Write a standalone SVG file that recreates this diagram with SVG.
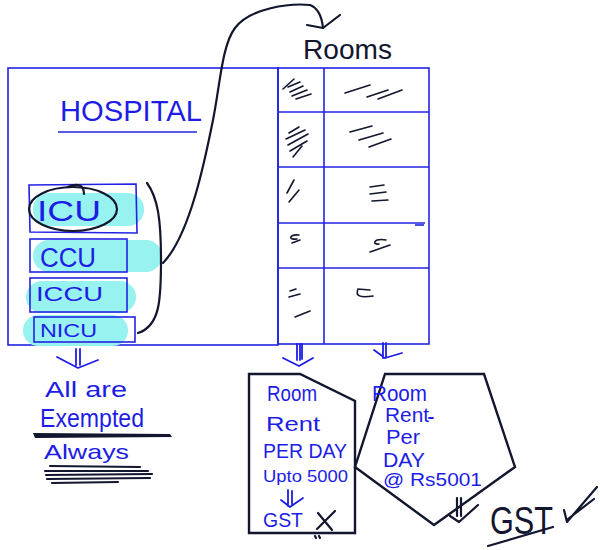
<svg xmlns="http://www.w3.org/2000/svg" width="600" height="550" viewBox="0 0 600 550">
  <style>
    .frame { fill: none; stroke: #2222e4; stroke-width: 1.6; }
    .ink { fill: none; stroke: #12162e; stroke-width: 2.2; stroke-linecap: round; stroke-linejoin: round; }
    .thin { fill: none; stroke: #12162e; stroke-width: 1.6; stroke-linecap: round; }
    .pen { fill: none; stroke: #1d1de6; stroke-width: 1.8; stroke-linecap: round; stroke-linejoin: round; }
    .hl { fill: #98f2ef; }
    .hand { font-family: "Liberation Sans", Arial, sans-serif; fill: #1d1de6; }
    .dark { font-family: "Liberation Sans", Arial, sans-serif; fill: #12162e; }
    .shape { fill: none; stroke: #12162e; stroke-width: 2.4; stroke-linejoin: miter; }
  </style>

  <!-- hospital block -->
  <g id="hospital">
    <rect class="frame" x="8" y="68" width="270" height="277"/>
    <text class="hand" x="60" y="121" font-size="30" textLength="142" lengthAdjust="spacingAndGlyphs">HOSPITAL</text>
    <line class="frame" x1="58" y1="132" x2="197" y2="132"/>
  </g>

  <g id="icu">
    <rect class="hl" x="33" y="193" width="111" height="33" rx="16"/>
    <path class="frame" d="M29,185 L136,184 L137,233 L30,232 Z"/>
    <text class="hand" x="37" y="221" font-size="30" textLength="64" lengthAdjust="spacingAndGlyphs">ICU</text>
    <ellipse class="ink" cx="73" cy="209" rx="44" ry="22"/>
    <path class="ink" d="M68,187 C76,183 84,184 84,194"/>
  </g>

  <g id="ccu">
    <rect class="hl" x="33" y="240" width="129" height="32" rx="16"/>
    <rect class="frame" x="30" y="239" width="97" height="33"/>
    <text class="hand" x="40" y="267" font-size="27" textLength="56" lengthAdjust="spacingAndGlyphs">CCU</text>
  </g>

  <g id="iccu">
    <rect class="hl" x="26" y="281" width="110" height="32" rx="16"/>
    <rect class="frame" x="30" y="278" width="97" height="34"/>
    <text class="hand" x="36" y="301" font-size="21" textLength="67" lengthAdjust="spacingAndGlyphs">ICCU</text>
  </g>

  <g id="nicu">
    <rect class="hl" x="23" y="315" width="105" height="31" rx="15.5"/>
    <rect class="frame" x="34" y="317" width="101" height="25"/>
    <text class="hand" x="40" y="337" font-size="18" textLength="57" lengthAdjust="spacingAndGlyphs">NICU</text>
  </g>

  <!-- rooms table -->
  <g id="rooms">
    <text class="dark" x="303" y="59" font-size="28" textLength="89" lengthAdjust="spacingAndGlyphs">Rooms</text>
    <rect class="frame" x="278" y="68" width="151" height="276"/>
    <line class="frame" x1="324" y1="68" x2="324" y2="344"/>
    <line class="frame" x1="278" y1="112" x2="429" y2="112"/>
    <line class="frame" x1="278" y1="167" x2="429" y2="167"/>
    <line class="frame" x1="278" y1="223" x2="425" y2="223"/>
    <line class="frame" x1="415" y1="225" x2="424" y2="225"/>
    <line class="frame" x1="278" y1="268" x2="429" y2="268"/>
    <!-- cell marks -->
    <path class="thin" d="M283,89 L294,79 M288,87 L300,82 M290,92 L303,86 M292,96 L307,90 M296,99 L311,94"/>
    <path class="thin" d="M345,93 L370,85 M367,97 L388,90 M378,99 L402,90"/>
    <path class="thin" d="M289,133 L299,127 M286,139 L305,130 M288,145 L308,134 M290,151 L307,141 M293,157 L302,146"/>
    <path class="thin" d="M350,132 L372,126 M359,140 L383,133 M369,147 L391,139"/>
    <path class="thin" d="M287,193 L294,180 M289,202 L299,190"/>
    <path class="thin" d="M370,187 L384,185 M370,194 L386,192 M372,201 L388,200"/>
    <path class="thin" d="M299,235 C290,234 287,240 297,239 M292,243 L300,240"/>
    <path class="thin" d="M386,240 C373,238 372,245 379,244 M370,252 L390,245"/>
    <path class="thin" d="M296,289 L290,291 M289,297 L300,294 M295,317 L310,311"/>
    <path class="thin" d="M370,290 L358,289 C355,296 360,298 373,296"/>
  </g>

  <!-- note below hospital -->
  <g id="exempt-note">
    <text class="hand" x="45" y="397" font-size="22" textLength="82" lengthAdjust="spacingAndGlyphs">All are</text>
    <text class="hand" x="40" y="427" font-size="25" textLength="104" lengthAdjust="spacingAndGlyphs">Exempted</text>
    <path d="M33,433 L170,434 L172,437 L35,438 Z" fill="#12162e"/>
    <text class="hand" x="44" y="459" font-size="21" textLength="85" lengthAdjust="spacingAndGlyphs">Always</text>
    <path class="ink" stroke-width="3" d="M50,466 L140,467 M45,471 L148,471 M46,475 L152,474 M47,479 L150,478 M52,483 L118,482"/>
  </g>

  <!-- rent up to 5000 -->
  <g id="rent-upto-5000">
    <polygon class="shape" points="249,374 300,374 355,401 355,533 249,533"/>
    <text class="hand" x="267" y="401" font-size="22" textLength="50" lengthAdjust="spacingAndGlyphs">Room</text>
    <text class="hand" x="266" y="431" font-size="21" textLength="54" lengthAdjust="spacingAndGlyphs">Rent</text>
    <text class="hand" x="263" y="458" font-size="21" textLength="84" lengthAdjust="spacingAndGlyphs">PER DAY</text>
    <text class="hand" x="263" y="482" font-size="17" textLength="85" lengthAdjust="spacingAndGlyphs">Upto 5000</text>
    <path class="pen" d="M288,490 L288,506 M292,491 L292,505 M281,500 L290,507 L303,498"/>
    <text class="hand" x="263" y="527" font-size="21" textLength="40" lengthAdjust="spacingAndGlyphs">GST</text>
    <path class="ink" stroke-width="2.6" d="M318,513 L332,530 M335,511 L317,529"/>
    <path class="ink" d="M315,536 L316,538 M319,536 L320,538"/>
  </g>

  <!-- rent above 5000 -->
  <g id="rent-above-5000">
    <polygon class="shape" points="385,374 484,374 515,467 434,525 355,467"/>
    <text class="hand" x="372" y="401" font-size="22" textLength="55" lengthAdjust="spacingAndGlyphs">Room</text>
    <text class="hand" x="385" y="422" font-size="20" textLength="44" lengthAdjust="spacingAndGlyphs">Rent</text>
    <line class="pen" stroke-width="1.2" x1="429" y1="418" x2="433" y2="418"/>
    <text class="hand" x="386" y="444" font-size="20" textLength="34" lengthAdjust="spacingAndGlyphs">Per</text>
    <text class="hand" x="383" y="467" font-size="21" textLength="42" lengthAdjust="spacingAndGlyphs">DAY</text>
    <text class="hand" x="383" y="486" font-size="18" textLength="99" lengthAdjust="spacingAndGlyphs">@ Rs5001</text>
  </g>

  <g id="gst-mark">
    <text class="dark" x="490" y="534" font-size="38" textLength="63" lengthAdjust="spacingAndGlyphs">GST</text>
    <line class="ink" stroke-width="2.6" x1="488" y1="546" x2="553" y2="527"/>
    <path class="ink" stroke-width="2.6" d="M564,510 L567,522 L597,487 M568,519 L594,499"/>
  </g>

  <!-- connectors -->
  <g id="connectors">
    <path class="ink" d="M147,183 C158,198 161,220 161,260 C161,300 160,326 138,333"/>
    <path class="ink" d="M163,263 C190,235 205,160 213,120 C220,85 222,45 235,28 C250,8 290,3 310,5 C318,8 322,18 323,28"/>
    <path class="ink" d="M307,25 L323,28 L340,15"/>
    <path class="pen" d="M76,349 L76,365 M80,349 L80,365 M57,357 L78,368 L98,360"/>
    <path class="pen" stroke-width="2.4" d="M297,344 L297,360 M300,344 L300,360 M302,344 L302,359 M283,358 L299,366 L313,358"/>
    <path class="pen" d="M383,343 L383,358 M386,343 L386,358 M374,350 L385,358 L402,353"/>
    <path class="ink" d="M457,498 L457,516 M461,498 L461,516 M450,516 L459,522 L478,505"/>
  </g>
</svg>
